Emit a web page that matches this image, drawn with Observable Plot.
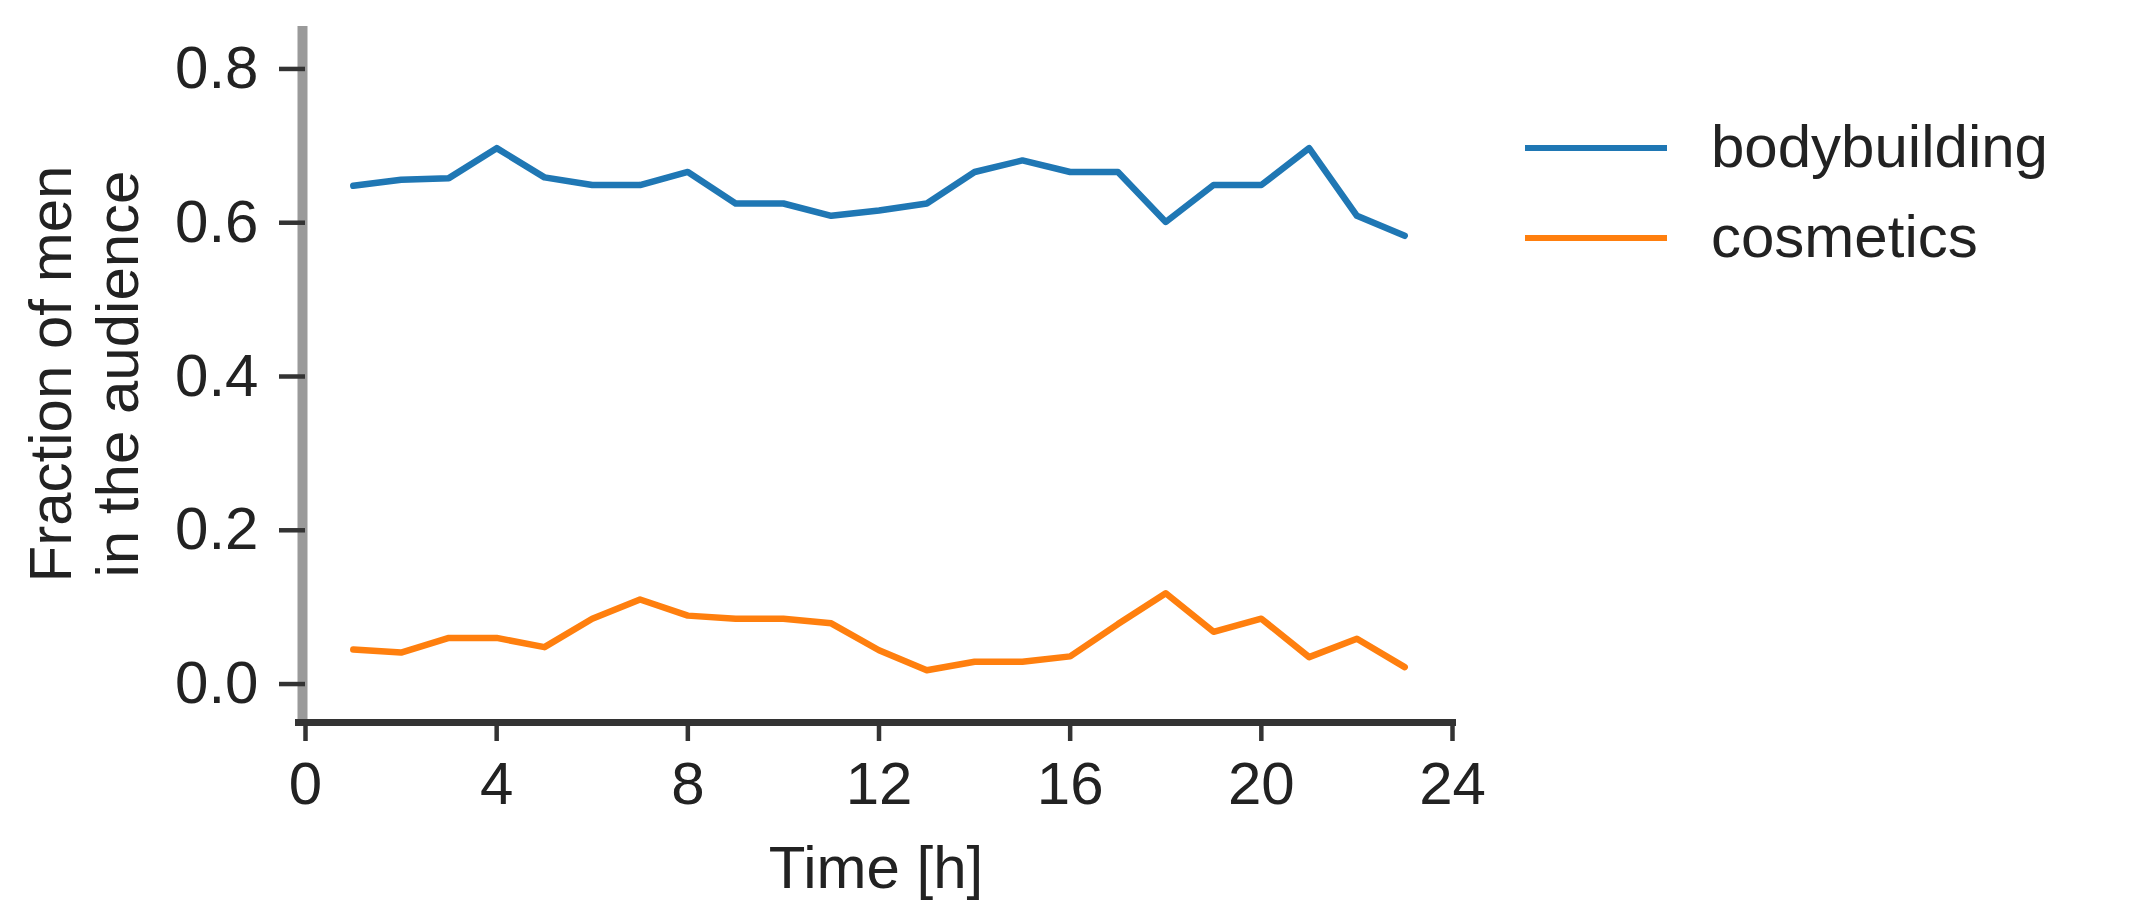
<!DOCTYPE html>
<html>
<head>
<meta charset="utf-8">
<script src="https://cdn.jsdelivr.net/npm/d3@7"></script>
<script src="https://cdn.jsdelivr.net/npm/@observablehq/plot@0.6"></script>
<style>
  html, body { margin: 0; padding: 0; background: #fff; }
  #wrap { position: relative; width: 2129px; height: 914px; font-family: "Liberation Sans", Arial, sans-serif; color: #222; }
  #ylabel { position: absolute; width: 700px; height: 134px; left: -266.3px; top: 307px; transform: rotate(-90deg); text-align: center; font-size: 60px; line-height: 67px; white-space: nowrap; }
  #xlabel { position: absolute; width: 600px; left: 576px; top: 838px; text-align: center; font-size: 60px; line-height: 60px; white-space: nowrap; }
  #legend { position: absolute; left: 1525px; top: 117px; }
  .row { position: relative; height: 90px; width: 560px; }
  .sw { position: absolute; left: 0; top: 28px; width: 142px; height: 6px; }
  .lb { position: absolute; left: 186px; top: 0; font-size: 60px; line-height: 60px; white-space: nowrap; }
</style>
</head>
<body>
<div id="wrap">
  <div id="chart"></div>
  <div id="ylabel"></div>
  <div id="xlabel"></div>
  <div id="legend"></div>
</div>
<script>
const hours = [1,2,3,4,5,6,7,8,9,10,11,12,13,14,15,16,17,18,19,20,21,22,23];
const bodybuilding = [0.648,0.656,0.658,0.697,0.659,0.649,0.649,0.666,0.625,0.625,0.609,0.616,0.625,0.666,0.681,0.666,0.666,0.601,0.649,0.649,0.697,0.609,0.583];
const cosmetics = [0.045,0.041,0.060,0.060,0.048,0.085,0.110,0.089,0.085,0.085,0.079,0.044,0.018,0.029,0.029,0.036,0.078,0.118,0.068,0.085,0.035,0.059,0.022];
const seriesNames = ["bodybuilding", "cosmetics"];
const seriesColors = ["#1f77b4", "#ff7f0e"];
const xTicks = [0, 4, 8, 12, 16, 20, 24];
const yTicks = [0, 0.2, 0.4, 0.6, 0.8];
const yLabelLines = ["Fraction of men", "in the audience"];
const xLabel = "Time [h]";

const seriesValues = [bodybuilding, cosmetics];
const rows = seriesNames.flatMap((name, k) =>
  hours.map((h, i) => ({hour: h, value: seriesValues[k][i], series: name})));

const chart = Plot.plot({
  width: 2129,
  height: 914,
  marginLeft: 305,
  marginRight: 677,
  marginTop: 30,
  marginBottom: 192,
  x: {domain: [0, 24]},
  y: {domain: [-0.05, 0.85]},
  color: {domain: seriesNames, range: seriesColors},
  style: {fontFamily: '"Liberation Sans", Arial, sans-serif', fontSize: "60px", color: "#222", background: "white", overflow: "visible"},
  marks: [
    Plot.ruleX([0], {stroke: "#9a9a9a", strokeWidth: 10, dx: -3, insetTop: -4}),
    Plot.ruleY([-0.05], {stroke: "#333", strokeWidth: 7, insetLeft: -10, insetRight: -4}),
    Plot.axisX({ticks: xTicks, tickSize: 19, tickPadding: 20, stroke: "#333", strokeWidth: 4.5, fill: "#222", label: null}),
    Plot.axisY({ticks: yTicks, tickFormat: d3.format(".1f"), tickSize: 26, tickPadding: 21, stroke: "#333", strokeWidth: 4.5, fill: "#222", label: null}),
    Plot.line(rows, {x: "hour", y: "value", z: "series", stroke: "series", strokeWidth: 6.5, strokeLinejoin: "round"})
  ]
});
document.getElementById("chart").appendChild(chart);

document.getElementById("ylabel").innerHTML = yLabelLines.join("<br>");
document.getElementById("xlabel").textContent = xLabel;
const legend = document.getElementById("legend");
seriesNames.forEach((name, k) => {
  const row = document.createElement("div");
  row.className = "row";
  const sw = document.createElement("div");
  sw.className = "sw";
  sw.style.background = seriesColors[k];
  const lb = document.createElement("div");
  lb.className = "lb";
  lb.textContent = name;
  row.appendChild(sw);
  row.appendChild(lb);
  legend.appendChild(row);
});
</script>
</body>
</html>
